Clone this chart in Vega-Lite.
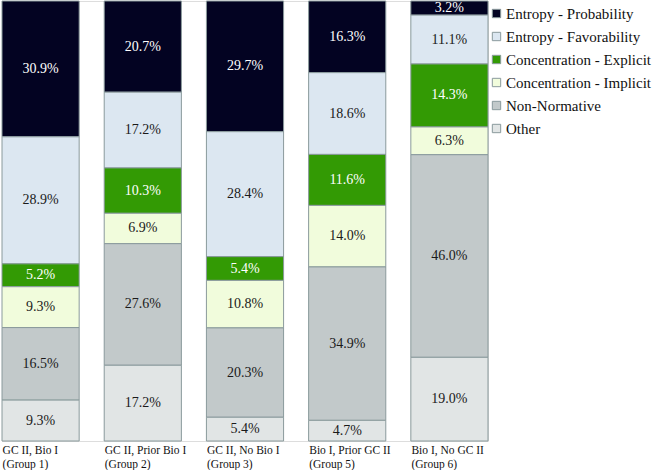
{
  "$schema": "https://vega.github.io/schema/vega-lite/v6.json",
  "autosize": "none",
  "width": 486,
  "height": 440,
  "padding": {"left": 2, "top": 1, "right": 169, "bottom": 29},
  "background": "white",
  "config": {"font": "Liberation Serif, serif"},
  "data": {
    "values": [
      {"group": "GC II, Bio I|(Group 1)", "cat": "Entropy - Probability", "pct": 30.9},
      {"group": "GC II, Bio I|(Group 1)", "cat": "Entropy - Favorability", "pct": 28.9},
      {"group": "GC II, Bio I|(Group 1)", "cat": "Concentration - Explicit", "pct": 5.2},
      {"group": "GC II, Bio I|(Group 1)", "cat": "Concentration - Implicit", "pct": 9.3},
      {"group": "GC II, Bio I|(Group 1)", "cat": "Non-Normative", "pct": 16.5},
      {"group": "GC II, Bio I|(Group 1)", "cat": "Other", "pct": 9.3},
      {"group": "GC II, Prior Bio I|(Group 2)", "cat": "Entropy - Probability", "pct": 20.7},
      {"group": "GC II, Prior Bio I|(Group 2)", "cat": "Entropy - Favorability", "pct": 17.2},
      {"group": "GC II, Prior Bio I|(Group 2)", "cat": "Concentration - Explicit", "pct": 10.3},
      {"group": "GC II, Prior Bio I|(Group 2)", "cat": "Concentration - Implicit", "pct": 6.9},
      {"group": "GC II, Prior Bio I|(Group 2)", "cat": "Non-Normative", "pct": 27.6},
      {"group": "GC II, Prior Bio I|(Group 2)", "cat": "Other", "pct": 17.2},
      {"group": "GC II, No Bio I|(Group 3)", "cat": "Entropy - Probability", "pct": 29.7},
      {"group": "GC II, No Bio I|(Group 3)", "cat": "Entropy - Favorability", "pct": 28.4},
      {"group": "GC II, No Bio I|(Group 3)", "cat": "Concentration - Explicit", "pct": 5.4},
      {"group": "GC II, No Bio I|(Group 3)", "cat": "Concentration - Implicit", "pct": 10.8},
      {"group": "GC II, No Bio I|(Group 3)", "cat": "Non-Normative", "pct": 20.3},
      {"group": "GC II, No Bio I|(Group 3)", "cat": "Other", "pct": 5.4},
      {"group": "Bio I, Prior GC II|(Group 5)", "cat": "Entropy - Probability", "pct": 16.3},
      {"group": "Bio I, Prior GC II|(Group 5)", "cat": "Entropy - Favorability", "pct": 18.6},
      {"group": "Bio I, Prior GC II|(Group 5)", "cat": "Concentration - Explicit", "pct": 11.6},
      {"group": "Bio I, Prior GC II|(Group 5)", "cat": "Concentration - Implicit", "pct": 14.0},
      {"group": "Bio I, Prior GC II|(Group 5)", "cat": "Non-Normative", "pct": 34.9},
      {"group": "Bio I, Prior GC II|(Group 5)", "cat": "Other", "pct": 4.7},
      {"group": "Bio I, No GC II|(Group 6)", "cat": "Entropy - Probability", "pct": 3.2},
      {"group": "Bio I, No GC II|(Group 6)", "cat": "Entropy - Favorability", "pct": 11.1},
      {"group": "Bio I, No GC II|(Group 6)", "cat": "Concentration - Explicit", "pct": 14.3},
      {"group": "Bio I, No GC II|(Group 6)", "cat": "Concentration - Implicit", "pct": 6.3},
      {"group": "Bio I, No GC II|(Group 6)", "cat": "Non-Normative", "pct": 46.0},
      {"group": "Bio I, No GC II|(Group 6)", "cat": "Other", "pct": 19.0}
    ]
  },
  "transform": [
    {"calculate": "indexof(['Other','Non-Normative','Concentration - Implicit','Concentration - Explicit','Entropy - Favorability','Entropy - Probability'], datum.cat)", "as": "idx"},
    {"stack": "pct", "groupby": ["group"], "offset": "normalize", "sort": [{"field": "idx", "order": "ascending"}], "as": ["v0", "v1"]},
    {"calculate": "(datum.v0 + datum.v1) / 2", "as": "mid"},
    {"calculate": "format(datum.pct, '.1f') + '%'", "as": "label"}
  ],
  "encoding": {
    "x": {
      "field": "group",
      "type": "nominal",
      "sort": null,
      "title": null,
      "scale": {"paddingInner": 0.245, "paddingOuter": 0},
      "axis": {
        "labelExpr": "split(datum.label, '|')",
        "labelAngle": 0,
        "labelAlign": "left",
        "labelBaseline": "top",
        "labelOffset": -38,
        "labelPadding": 3,
        "labelLineHeight": 14,
        "labelFont": "Liberation Serif, serif",
        "labelFontSize": 11.5,
        "labelColor": "#111111",
        "labelLimit": 200,
        "domain": false,
        "ticks": false
      }
    }
  },
  "layer": [
    {
      "mark": {"type": "bar", "stroke": "#8a9a9c", "strokeWidth": 1},
      "encoding": {
        "y": {"field": "v0", "type": "quantitative", "scale": {"domain": [0, 1]}, "axis": null},
        "y2": {"field": "v1"},
        "color": {
          "field": "cat",
          "type": "nominal",
          "title": null,
          "scale": {
            "domain": ["Entropy - Probability", "Entropy - Favorability", "Concentration - Explicit", "Concentration - Implicit", "Non-Normative", "Other"],
            "range": ["#030322", "#dce7f1", "#339a04", "#f1fcdc", "#c2c9ca", "#e1e5e5"]
          },
          "legend": {
            "orient": "none",
            "legendX": 487,
            "legendY": 5,
            "padding": 0,
            "symbolType": "square",
            "symbolSize": 70,
            "symbolStrokeColor": "#8a9a9c",
            "symbolStrokeWidth": 1,
            "labelFont": "Liberation Serif, serif",
            "labelFontSize": 15,
            "labelColor": "#111111",
            "labelLimit": 200,
            "rowPadding": 7,
            "labelOffset": 2
          }
        }
      }
    },
    {
      "mark": {"type": "text", "font": "Liberation Serif, serif", "fontSize": 14, "baseline": "middle", "align": "center"},
      "encoding": {
        "y": {"field": "mid", "type": "quantitative"},
        "text": {"field": "label", "type": "nominal"},
        "color": {
          "condition": {"test": "datum.cat == 'Entropy - Probability' || datum.cat == 'Concentration - Explicit'", "value": "#ffffff"},
          "value": "#1a1a1a"
        }
      }
    }
  ]
}
